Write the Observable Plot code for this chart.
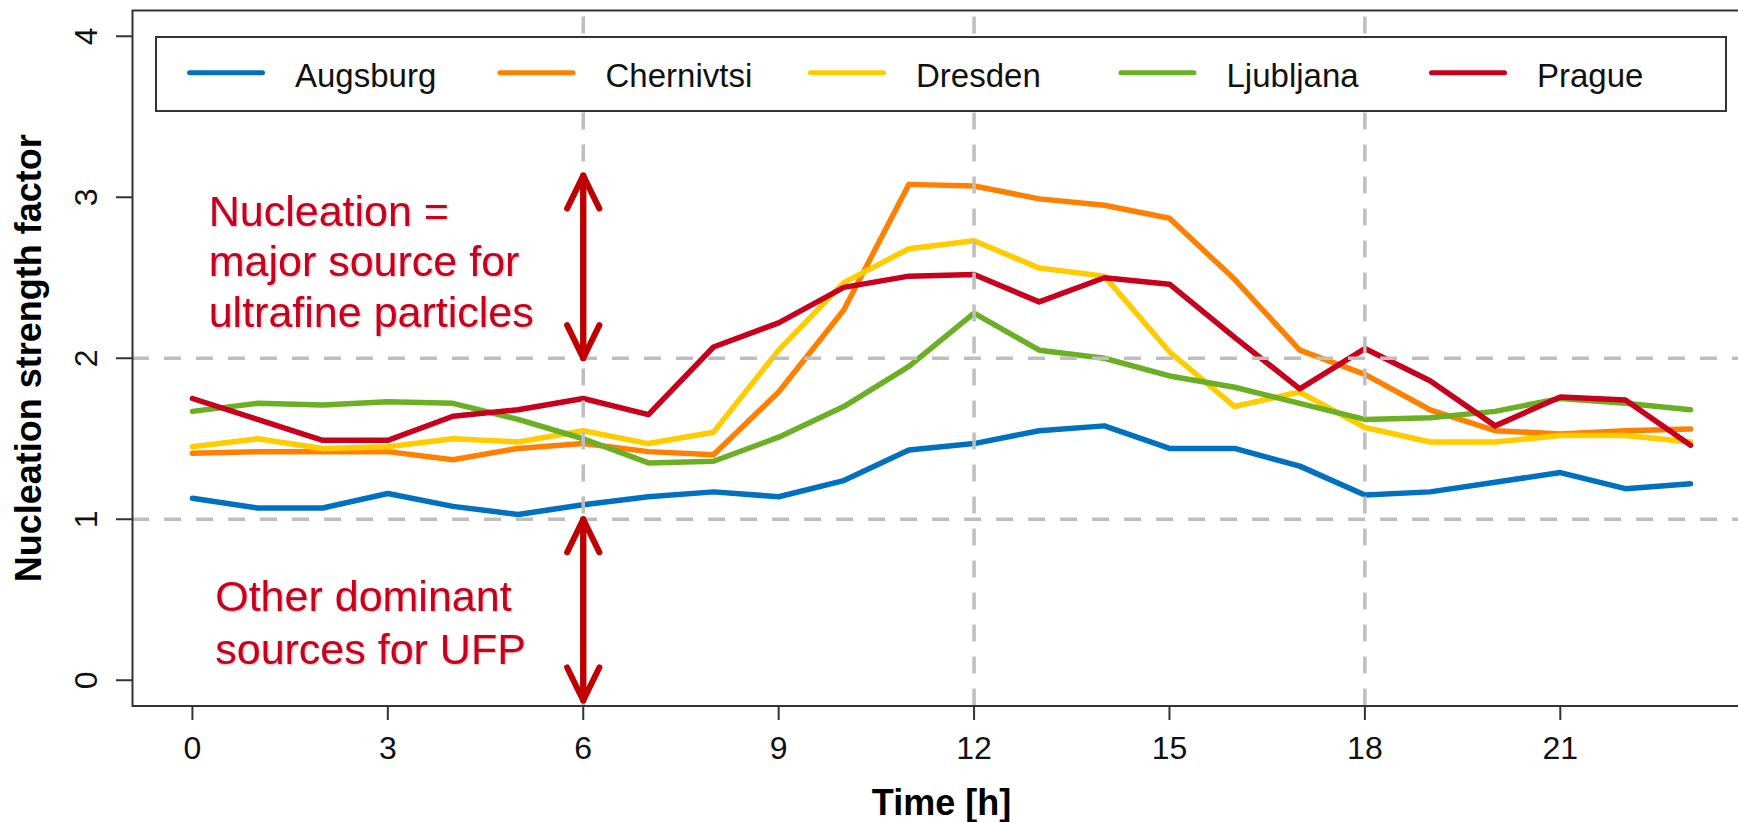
<!DOCTYPE html>
<html>
<head>
<meta charset="utf-8">
<script src="https://cdn.jsdelivr.net/npm/d3@7"></script>
<script src="https://cdn.jsdelivr.net/npm/@observablehq/plot@0.6"></script>
<style>
  html, body { margin: 0; padding: 0; background: #fff; overflow: hidden; }
  #chart svg { display: block; }
  .annot text { filter: drop-shadow(1.5px 1.5px 1px rgba(0,0,0,0.28)); }
</style>
</head>
<body>
<div id="chart"></div>
<script>
// ---- data ----
const hours = [0,1,2,3,4,5,6,7,8,9,10,11,12,13,14,15,16,17,18,19,20,21,22,23];
const cities = ["Augsburg", "Chernivtsi", "Dresden", "Ljubljana", "Prague"];
const cityColors = ["#0070C0", "#FF8000", "#FFCC00", "#6BAF25", "#C8001E"];

const augsburg   = [1.13,1.07,1.07,1.16,1.08,1.03,1.09,1.14,1.17,1.14,1.24,1.43,1.47,1.55,1.58,1.44,1.44,1.33,1.15,1.17,1.23,1.29,1.19,1.22];
const chernivtsi = [1.41,1.42,1.42,1.42,1.37,1.44,1.47,1.42,1.40,1.79,2.30,3.08,3.07,2.99,2.95,2.87,2.49,2.05,1.90,1.68,1.55,1.53,1.55,1.56];
const dresden    = [1.45,1.50,1.44,1.45,1.50,1.48,1.55,1.47,1.54,2.05,2.47,2.68,2.73,2.56,2.51,2.04,1.70,1.79,1.57,1.48,1.48,1.52,1.52,1.48];
const ljubljana  = [1.67,1.72,1.71,1.73,1.72,1.62,1.50,1.35,1.36,1.51,1.70,1.95,2.28,2.05,2.00,1.89,1.82,1.72,1.62,1.63,1.67,1.75,1.72,1.68];
const prague     = [1.75,1.62,1.49,1.49,1.64,1.68,1.75,1.65,2.07,2.22,2.44,2.51,2.52,2.35,2.50,2.46,2.13,1.81,2.06,1.86,1.58,1.76,1.74,1.46];
const seriesValues = [augsburg, chernivtsi, dresden, ljubljana, prague];

const xTicks = [0,3,6,9,12,15,18,21];
const yTicks = [0,1,2,3,4];
const vGrid = [6,12,18];
const hGrid = [1,2];

const xTitle = "Time [h]";
const yTitle = "Nucleation strength factor";
const annotTop = ["Nucleation =", "major source for", "ultrafine particles"];
const annotBottom = ["Other dominant", "sources for UFP"];
// double-headed arrows (hour, from value, to value)
const arrowHour = [6, 6, 6, 6];
const arrowFrom = [2, 3.135, 1, -0.126];
const arrowTo   = [3.135, 2, -0.126, 1];

// ---- build tables ----
const rows = cities.flatMap((c, i) => seriesValues[i].map((v, j) => ({city: c, hour: hours[j], value: v})));
const arrows = arrowHour.map((h, i) => ({x: h, from: arrowFrom[i], to: arrowTo[i]}));

const W = 1738, H = 822;
const xDomain = [-0.92, 23.92];
const yDomain = [-0.16, 4.16];
const font = "'Liberation Sans', Arial, Helvetica, sans-serif";
const red = "#C8001E";
const gridStyle = {stroke: "#BEBEBE", strokeWidth: 3.5, strokeDasharray: "17,15"};

const chart = Plot.plot({
  width: W,
  height: H,
  marginLeft: 132,
  marginRight: -12,
  marginTop: 10,
  marginBottom: 116.5,
  style: {fontFamily: font, background: "white", color: "#111", overflow: "hidden"},
  x: {domain: xDomain},
  y: {domain: yDomain},
  color: {domain: cities, range: cityColors},
  marks: [
    Plot.line(rows, {x: "hour", y: "value", z: "city", stroke: "city", strokeWidth: 5.5}),
    Plot.ruleY(hGrid, {y: d => d, ...gridStyle}),
    Plot.ruleX(vGrid, {x: d => d, y1: yDomain[0], y2: yDomain[1], ...gridStyle}),
    Plot.frame({stroke: "#333", strokeWidth: 2}),
    Plot.axisX({ticks: xTicks, tickFormat: d => String(d), tickSize: 14.5, tickPadding: 16, fontSize: 32, label: null, stroke: "#333", strokeWidth: 2}),
    Plot.axisY({ticks: yTicks, tickFormat: d => String(d), tickSize: 16, tickPadding: 20, tickRotate: -90, fontSize: 32, label: null, stroke: "#333", strokeWidth: 2}),
    Plot.arrow(arrows, {x1: "x", x2: "x", y1: "from", y2: "to", stroke: "#C00000", strokeWidth: 6, headAngle: 52, headLength: 9.2}),
    Plot.text([annotTop.join("\n")], {text: d => d, x: 0.25, y: 2.197, textAnchor: "start", lineAnchor: "bottom",
      fontSize: 43, lineHeight: 1.17, fill: red, className: "annot"}),
    Plot.text([annotBottom.join("\n")], {text: d => d, x: 0.35, y: 0.102, textAnchor: "start", lineAnchor: "bottom",
      fontSize: 43, lineHeight: 1.22, fill: red, className: "annot"}),
    Plot.text([yTitle], {text: d => d, frameAnchor: "left", dx: -92, rotate: -90, textAnchor: "middle", lineAnchor: "bottom",
      fontSize: 36, fontWeight: "bold", fill: "#000"}),
    Plot.text([xTitle], {text: d => d, frameAnchor: "bottom", dy: 108.5, textAnchor: "middle", lineAnchor: "bottom",
      fontSize: 36, fontWeight: "bold", fill: "#000"})
  ]
});

// ---- legend drawn inside the plot (top) ----
const svg = d3.select(chart);
const lg = svg.append("g").attr("font-family", font).attr("text-anchor", "start");
lg.append("rect")
  .attr("x", 156).attr("y", 37).attr("width", 1570).attr("height", 74)
  .attr("fill", "white").attr("stroke", "#333").attr("stroke-width", 2);
cities.forEach((c, i) => {
  const x0 = 189.5 + i * 310.5;
  lg.append("line")
    .attr("x1", x0).attr("x2", x0 + 73).attr("y1", 72.7).attr("y2", 72.7)
    .attr("stroke", cityColors[i]).attr("stroke-width", 5).attr("stroke-linecap", "round");
  lg.append("text")
    .attr("x", x0 + 105.5).attr("y", 87.3)
    .attr("text-anchor", "start")
    .attr("font-size", 33).attr("fill", "#111")
    .text(c);
});

document.getElementById("chart").appendChild(chart);
</script>
</body>
</html>
